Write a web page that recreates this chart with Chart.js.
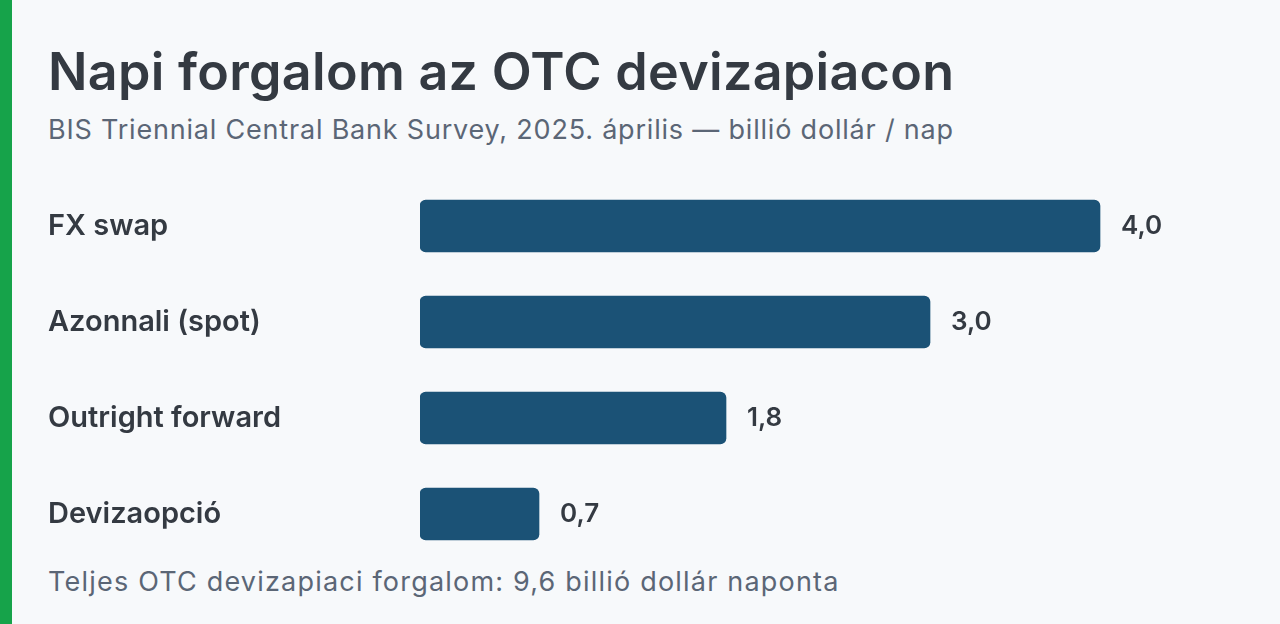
<!DOCTYPE html>
<html>
<head>
<meta charset="utf-8">
<script src="https://cdn.jsdelivr.net/npm/chart.js@4"></script>
<style>
    html, body { margin: 0; padding: 0; }
    body {
        width: 1280px; height: 624px; overflow: hidden; position: relative;
        background: #f7f9fb; font-family: Inter, "Noto Sans", sans-serif;
        border-left: 12px solid #16a34a; box-sizing: border-box;
    }
    .txt { position: absolute; left: 36px; white-space: nowrap; }
    #title { top: 41px; font-size: 52px; line-height: 62px; font-weight: 600; letter-spacing: 0.3px; color: #343a42; }
    #subtitle { top: 113px; font-size: 27px; line-height: 34px; letter-spacing: 0.8px; color: #5b6676; }
    #footer { top: 565px; font-size: 27px; line-height: 34px; letter-spacing: 1.2px; color: #5b6676; }
    #wrap { position: absolute; left: 36px; top: 178px; width: 1232px; height: 384px; }
</style>
</head>
<body>
<div id="title" class="txt">Napi forgalom az OTC devizapiacon</div>
<div id="subtitle" class="txt">BIS Triennial Central Bank Survey, 2025. április — billió dollár / nap</div>
<div id="wrap"><canvas id="fx-chart"></canvas></div>
<div id="footer" class="txt">Teljes OTC devizapiaci forgalom: 9,6 billió dollár naponta</div>
<script>
const categories = ["FX swap", "Azonnali (spot)", "Outright forward", "Devizaopció"];
const turnover   = [4.0, 3.0, 1.8, 0.7];

const BAR_COLOR  = "#1b5276",
      TEXT_COLOR = "#343a42",
      FONT       = "Inter, 'Noto Sans', sans-serif";

// writes the value at the end of each bar, hungarian decimal comma
const valueLabels = {
    id: "valueLabels",
    afterDatasetsDraw(chart) {
        const ctx = chart.ctx;
        const meta = chart.getDatasetMeta(0);
        ctx.save();
        ctx.font = "600 26px " + FONT;
        ctx.fillStyle = TEXT_COLOR;
        ctx.textAlign = "left";
        ctx.textBaseline = "middle";
        meta.data.forEach((bar, i) => {
            const v = chart.data.datasets[0].data[i];
            ctx.fillText(v.toFixed(1).replace(".", ","), bar.x + 21, bar.y);
        });
        ctx.restore();
    }
};

new Chart(document.getElementById("fx-chart"), {
    type: "bar",
    data: {
        labels: categories,
        datasets: [{
            data: turnover,
            backgroundColor: BAR_COLOR,
            borderRadius: 6,
            borderSkipped: false,
            barThickness: 52
        }]
    },
    options: {
        indexAxis: "y",
        responsive: true,
        maintainAspectRatio: false,
        animation: false,
        layout: { padding: { right: 10 } },
        plugins: { legend: { display: false }, tooltip: { enabled: false } },
        scales: {
            x: { display: false, min: 0, max: 5 },
            y: {
                grid: { display: false },
                border: { display: false },
                afterFit: (s) => {
                    s.width = 372;
                    s.paddingTop = 0;
                    s.paddingBottom = 0;
                },
                ticks: {
                    crossAlign: "far",
                    padding: 0,
                    color: TEXT_COLOR,
                    font: { family: FONT, size: 29, weight: "600" }
                }
            }
        }
    },
    plugins: [valueLabels]
});
</script>
</body>
</html>
